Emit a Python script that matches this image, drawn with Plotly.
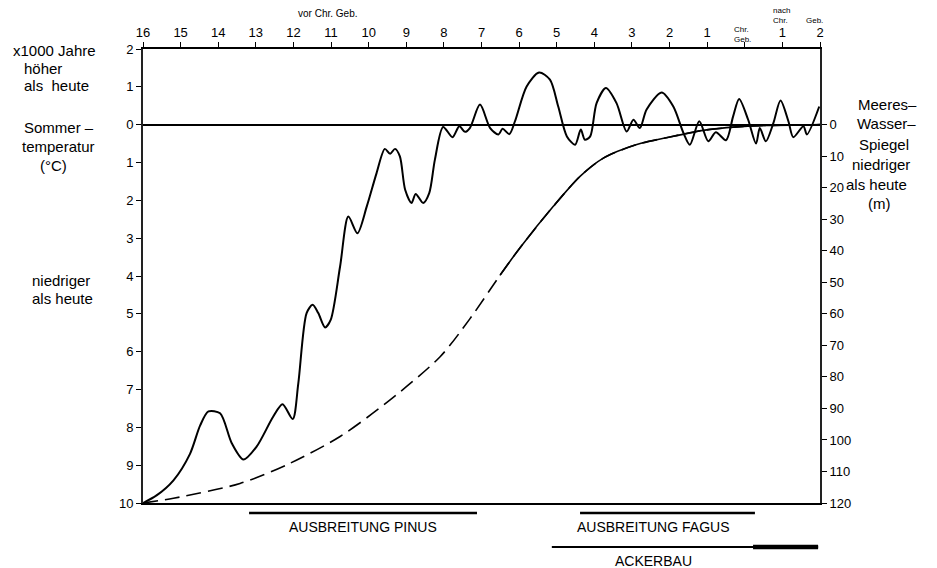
import plotly.graph_objects as go

# Zeitachse: Jahrtausende, vor Chr. Geb. negativ, nach Chr. Geb. positiv
time_ticks = list(range(-16, 3))
time_labels = [str(abs(t)) for t in range(-16, 0)] + ["", "1", "2"]

# Sommertemperatur (Abweichung von heute, °C)
temp_x = [-16.00, -15.64, -15.19, -14.75, -14.48, -14.26, -13.95, -13.64, -13.33, -12.98,
          -12.54, -12.29, -12.02, -11.87, -11.65, -11.49, -11.34, -11.16, -11.01, -10.76,
          -10.54, -10.30, -10.05, -9.79, -9.57, -9.43, -9.30, -9.17, -9.03, -8.86,
          -8.75, -8.55, -8.39, -8.24, -8.02, -7.77, -7.59, -7.44, -7.31, -7.04,
          -6.77, -6.55, -6.44, -6.26, -6.11, -5.80, -5.47, -5.18, -4.96, -4.73,
          -4.51, -4.36, -4.25, -4.11, -3.94, -3.69, -3.41, -3.14, -2.96, -2.79,
          -2.61, -2.21, -1.90, -1.63, -1.46, -1.21, -0.97, -0.77, -0.50, -0.31,
          -0.15, 0.09, 0.30, 0.40, 0.56, 0.76, 0.95, 1.16, 1.29, 1.56,
          1.65, 1.98]
temp_v = [-10.00, -9.80, -9.40, -8.70, -7.95, -7.58, -7.63, -8.42, -8.85, -8.51,
          -7.72, -7.39, -7.78, -6.83, -4.98, -4.76, -4.98, -5.36, -5.16, -3.75,
          -2.43, -2.87, -2.16, -1.28, -0.64, -0.77, -0.64, -0.84, -1.72, -2.07,
          -1.83, -2.07, -1.81, -0.93, -0.06, -0.33, -0.04, -0.19, -0.09, 0.53,
          -0.09, -0.26, -0.11, -0.25, 0.09, 1.01, 1.38, 1.19, 0.48, -0.31,
          -0.53, -0.13, -0.40, -0.31, 0.57, 0.97, 0.57, -0.18, 0.13, -0.09,
          0.40, 0.85, 0.48, -0.22, -0.53, 0.09, -0.44, -0.20, -0.41, 0.22,
          0.68, 0.13, -0.50, -0.09, -0.44, 0.04, 0.64, 0.09, -0.33, -0.04,
          -0.26, 0.48]

# Meeresspiegel (m niedriger als heute); belegt ab sea_solid_from, davor erschlossen
sea_x = [-16.00, -15.19, -13.42, -12.09, -10.76, -9.43, -8.10, -7.31, -6.51,
         -5.98, -5.09, -4.38, -3.76, -2.87, -1.99, -1.10, -0.21, 0.40, 1.55, 2.00]
sea_m = [120.0, 118.5, 113.8, 107.4, 98.9, 87.3, 73.6, 61.6, 47.8,
         39.1, 25.9, 16.4, 10.6, 6.3, 3.9, 1.8, 0.7, 0.3, 0.1, 0.0]
sea_solid_from = -6.51

temp_ticks = list(range(-10, 3))
sea_ticks = list(range(0, 121, 10))

# Zeiträume unter der Grafik
pinus_span = (-13.18, -7.12)
fagus_span = (-4.38, 0.27)
acker_span = (-5.13, 1.95)
acker_dense_span = (0.22, 1.95)

FONT = "Liberation Sans, Arial, Helvetica, sans-serif"
W, H = 937, 568
L, R, T, B = 143, 820, 49, 503


def px(xp):
    return (xp - L) / (R - L)


def py(yp):
    return (B - yp) / (B - T)


fig = go.Figure()

fig.add_trace(go.Scatter(
    x=temp_x, y=temp_v, mode="lines",
    line=dict(color="black", width=2, shape="spline", smoothing=0.8),
    hoverinfo="skip", showlegend=False))

# gesamter Verlauf gestrichelt, belegter Teil darüber durchgezogen
fig.add_trace(go.Scatter(
    x=sea_x, y=sea_m, yaxis="y2", mode="lines",
    line=dict(color="black", width=1.6, dash="15px,7px", shape="spline", smoothing=0.8),
    hoverinfo="skip", showlegend=False))

solid_idx = [i for i, v in enumerate(sea_x) if v >= sea_solid_from]
fig.add_trace(go.Scatter(
    x=[sea_x[i] for i in solid_idx], y=[sea_m[i] for i in solid_idx], yaxis="y2", mode="lines",
    line=dict(color="black", width=1.6, shape="spline", smoothing=0.8),
    hoverinfo="skip", showlegend=False))

tick_common = dict(showgrid=False, zeroline=False, ticklen=5, tickwidth=1.2, tickcolor="black")

fig.update_layout(
    width=W, height=H,
    margin=dict(l=L, r=W - R, t=T, b=H - B),
    paper_bgcolor="white", plot_bgcolor="white",
    font=dict(family=FONT, color="black", size=13),
    xaxis=dict(range=[-16, 2], side="top", tickmode="array", tickvals=time_ticks,
               ticktext=time_labels, ticks="outside", showline=True, mirror=True,
               linecolor="black", linewidth=1.5, tickfont=dict(size=13), **tick_common),
    xaxis2=dict(range=[-16, 2], side="top", overlaying="x", anchor="y", tickmode="array",
                tickvals=time_ticks, ticks="inside", showticklabels=False, showline=False,
                **tick_common),
    yaxis=dict(range=[-10, 2], tickmode="array", tickvals=temp_ticks,
               ticktext=[str(abs(v)) for v in temp_ticks], ticks="outside",
               showline=True, mirror=True, linecolor="#222", linewidth=1.8,
               showgrid=False, zeroline=True, zerolinecolor="black", zerolinewidth=1.8,
               ticklen=5, tickwidth=1.2, tickcolor="black", tickfont=dict(size=13)),
    yaxis3=dict(range=[-10, 2], overlaying="y", side="left", anchor="x", tickmode="array",
                tickvals=temp_ticks, ticks="inside", showticklabels=False, showline=False,
                **tick_common),
    yaxis2=dict(range=[120, -24], overlaying="y", side="right", anchor="x", tickmode="array",
                tickvals=sea_ticks, ticktext=[str(v) for v in sea_ticks], ticks="outside",
                showline=True, linecolor="#222", linewidth=1.8, tickfont=dict(size=13),
                **tick_common),
    yaxis4=dict(range=[120, -24], overlaying="y", side="right", anchor="x", tickmode="array",
                tickvals=sea_ticks, ticks="inside", showticklabels=False, showline=False,
                **tick_common),
)

# Balken für Ausbreitung und Ackerbau
shapes = []
for (x0, x1), ypix, w in [(pinus_span, 513, 2.6), (fagus_span, 513, 2.6),
                          (acker_span, 547, 2.2), (acker_dense_span, 547, 4.5)]:
    shapes.append(dict(type="line", xref="x", yref="paper", x0=x0, x1=x1,
                       y0=py(ypix), y1=py(ypix), line=dict(color="black", width=w)))
fig.update_layout(shapes=shapes)


def note(text, xp, yp, size=15, xanchor="left", yanchor="middle", align="left"):
    fig.add_annotation(text=text, xref="paper", yref="paper", x=px(xp), y=py(yp),
                       xanchor=xanchor, yanchor=yanchor, align=align, showarrow=False,
                       font=dict(family=FONT, size=size, color="black"))


# linke Beschriftung
note("x1000 Jahre", 11, 50)
note("höher", 22, 68)
note("als  heute", 22, 86)
note("Sommer –", 22, 127)
note("temperatur", 20, 146)
note("(°C)", 38, 165)
note("niedriger", 30, 280)
note("als heute", 30, 298)

# rechte Beschriftung
note("Meeres–", 887, 105, xanchor="center")
note("Wasser–", 886, 124, xanchor="center")
note("Spiegel", 884, 144, xanchor="center")
note("niedriger", 881, 164, xanchor="center")
note("als heute", 877, 184, xanchor="center")
note("(m)", 879, 203, xanchor="center")

# Zeitangaben oben
note("vor Chr. Geb.", 327, 14, size=10, xanchor="center")
note("Chr.<br>Geb.", 742, 34, size=8, xanchor="center")
note("nach<br>Chr.", 781, 15, size=8, xanchor="center")
note("Geb.", 814, 20, size=8, xanchor="center")

# Zeiträume unten
note("AUSBREITUNG PINUS", 363, 527, size=14, xanchor="center")
note("AUSBREITUNG FAGUS", 653, 527, size=14, xanchor="center")
note("ACKERBAU", 653, 561, size=14, xanchor="center")

fig.write_html("out.html")
